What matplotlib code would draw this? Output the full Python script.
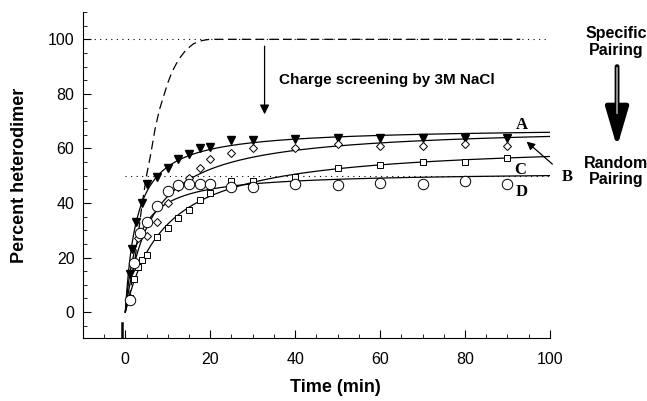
import numpy as np
import matplotlib
matplotlib.use("Agg")
import matplotlib.pyplot as plt
from matplotlib.ticker import MultipleLocator

plt.rcParams['font.family'] = ['Liberation Sans', 'DejaVu Sans']

# data
t_A = [1, 1.5, 2.5, 4, 5, 7.5, 10, 12.5, 15, 17.5, 20, 25, 30, 40, 50, 60, 70, 80, 90]
y_A = [14, 23, 33, 40, 47, 49.5, 53, 56, 58, 60, 60.5, 63, 63, 63.5, 64, 64, 64, 64, 64]

t_B = [1, 2, 3, 5, 7.5, 10, 12.5, 15, 17.5, 20, 25, 30, 40, 50, 60, 70, 80, 90]
y_B = [5, 18, 27, 28, 33, 40, 46, 49, 53, 56, 58.5, 60, 60, 61.5, 61, 61, 61.5, 61]

t_C = [1, 2, 3, 4, 5, 7.5, 10, 12.5, 15, 17.5, 20, 25, 30, 40, 50, 60, 70, 80, 90]
y_C = [5, 12, 16.5, 19, 21, 27.5, 31, 34.5, 37.5, 41, 43.5, 48, 48, 49.5, 53, 54, 55, 55, 56.5]

t_D = [1, 2, 3.5, 5, 7.5, 10, 12.5, 15, 17.5, 20, 25, 30, 40, 50, 60, 70, 80, 90]
y_D = [4.5, 18, 29, 33, 39, 44.5, 46.5, 47, 47, 47, 46, 46, 47, 46.5, 47.5, 47, 48, 47]

# theoretical specific pairing curve (dashed)
t_spec = [0, 1, 2, 3, 4, 5, 6, 7, 8, 9, 10, 11, 12, 13, 14, 15, 16, 17, 18, 19, 20, 93]
y_spec = [0, 6, 16, 28, 40, 50, 58, 67, 74, 79, 84, 88, 91, 93.5, 95.5, 97, 98.3, 99, 99.5, 99.8, 100, 100]


def hyper_fit(t, y):
    # least squares fit of y = a*t/(k+t)
    t = np.asarray(t, float)
    y = np.asarray(y, float)
    best = None
    for k in np.linspace(0.2, 30, 800):
        f = t / (k + t)
        a = (f @ y) / (f @ f)
        err = ((a * f - y) ** 2).sum()
        if best is None or err < best[0]:
            best = (err, a, k)
    return best[1], best[2]


fig = plt.figure(figsize=(6.47, 4.01), dpi=100)
ax = fig.add_axes([0.128, 0.157, 0.722, 0.813])

t_line = np.linspace(0, 100, 500)
for t, y in [(t_A, y_A), (t_B, y_B), (t_C, y_C), (t_D, y_D)]:
    a, k = hyper_fit(t, y)
    ax.plot(t_line, a * t_line / (k + t_line), color='k', lw=0.9, zorder=3)

ax.plot(t_A, y_A, 'v', color='k', ms=6, zorder=4)
ax.plot(t_B, y_B, 'D', mfc='white', mec='k', mew=0.7, ms=4.5, zorder=4)
ax.plot(t_C, y_C, 's', mfc='white', mec='k', mew=0.7, ms=4, zorder=4)
ax.plot(t_D, y_D, 'o', mfc='white', mec='k', mew=0.7, ms=7.5, zorder=4)

ax.plot([-10, 100], [100, 100], ls=(0, (1, 4)), color='k', lw=0.8)
ax.plot([0, 100], [50, 50], ls=(0, (1, 4)), color='k', lw=0.8)
ax.plot(t_spec, y_spec, ls=(0, (7, 4)), color='k', lw=0.9, zorder=3)

# small spike near the origin
ax.plot([-0.8, -0.8], [-9.5, -4], color='k', lw=1.8)

ax.set_xlim(-10, 100)
ax.set_ylim(-9.5, 110)
ax.spines['top'].set_visible(False)
ax.spines['right'].set_visible(False)
ax.xaxis.set_major_locator(MultipleLocator(20))
ax.xaxis.set_minor_locator(MultipleLocator(5))
ax.yaxis.set_major_locator(MultipleLocator(20))
ax.yaxis.set_minor_locator(MultipleLocator(5))
ax.set_xticks([0, 20, 40, 60, 80, 100])
ax.set_yticks([0, 20, 40, 60, 80, 100])
ax.tick_params(which='major', direction='in', length=6, labelsize=11.5)
ax.tick_params(which='minor', direction='in', length=3)
ax.tick_params(axis='x', pad=10)
ax.tick_params(axis='y', pad=6)

ax.set_xlabel('Time (min)', fontsize=13, fontweight='bold')
ax.set_ylabel('Percent heterodimer', fontsize=13, fontweight='bold')
ax.xaxis.set_label_coords(0.54, -0.125)
ax.yaxis.set_label_coords(-0.118, 0.5)

ax.annotate('', xy=(32.8, 71.5), xytext=(32.8, 98.5),
            arrowprops=dict(arrowstyle='-|>', color='k', lw=0.9, mutation_scale=14))
ax.text(36.3, 85, 'Charge screening by 3M NaCl', fontsize=11, fontweight='bold',
        va='center', ha='left')

serif = ['Liberation Serif', 'DejaVu Serif']
ax.text(93.3, 68.6, 'A', family=serif, fontsize=12, fontweight='bold', ha='center', va='center')
ax.text(93.0, 52.0, 'C', family=serif, fontsize=12, fontweight='bold', ha='center', va='center')
ax.text(93.3, 44.0, 'D', family=serif, fontsize=12, fontweight='bold', ha='center', va='center')
ax.annotate('B', xy=(94.5, 62.5), xytext=(104, 49.6), family=serif, fontsize=12,
            fontweight='bold', ha='center', va='center', annotation_clip=False,
            arrowprops=dict(arrowstyle='-|>', color='k', lw=0.9, mutation_scale=12,
                            shrinkA=6, shrinkB=0))

ax.text(115.6, 99, 'Specific\nPairing', fontsize=11.5, fontweight='bold',
        ha='center', va='center', clip_on=False, linespacing=1.1)
ax.text(115.6, 51.5, 'Random\nPairing', fontsize=11.5, fontweight='bold',
        ha='center', va='center', clip_on=False, linespacing=1.1)
# thick arrow: black outline shaft with grey core and black head
ax.annotate('', xy=(115.8, 60.5), xytext=(115.8, 90), annotation_clip=False,
            arrowprops=dict(arrowstyle='-|>,head_length=0.75,head_width=0.22', color='k',
                            lw=3.5, mutation_scale=32, shrinkA=0, shrinkB=0))
ax.plot([115.8, 115.8], [89.5, 73], color='0.6', lw=1.3, clip_on=False, zorder=5)

fig.savefig('out.png', dpi=100)
